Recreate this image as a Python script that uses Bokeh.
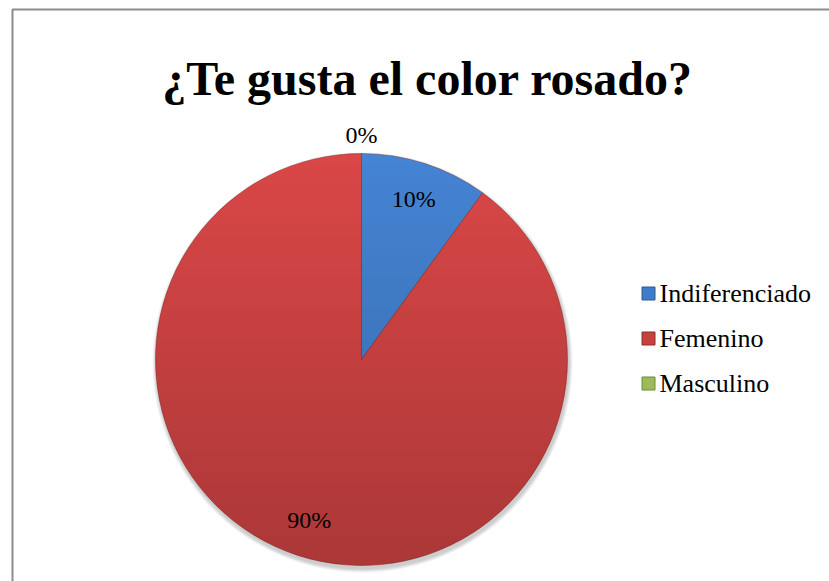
import numpy as np
from bokeh.plotting import figure
from bokeh.models import Range1d, ColumnDataSource
from bokeh.core.properties import value
from bokeh.embed import file_html
from bokeh.resources import INLINE

# ---- data ----
title_text = "¿Te gusta el color rosado?"
categories = ["Indiferenciado", "Femenino", "Masculino"]
percent = [10, 90, 0]
colors = ["#4584D4", "#DA4747", "#9BBB59"]
legend_colors = ["#3F7DC8", "#C8403D", "#9BBB59"]
edge_colors = ["#2B5A93", "#8E2F2D", "#6F8A3C"]

W, H = 829, 581
SERIF = value("Liberation Serif")

p = figure(width=W, height=H, output_backend="svg", toolbar_location=None,
           x_range=Range1d(0, W), y_range=Range1d(0, H),
           min_border=0, outline_line_color=None)
p.axis.visible = False
p.grid.visible = False
p.background_fill_color = "white"
p.border_fill_color = "white"

# chart frame (left and top edges visible, rest runs off-page)
p.line([12, 12, W + 5], [-5, H - 9, H - 9], line_color="#8C8C8C", line_width=2)

# title
p.text(x=[427], y=[H - 78], text=[title_text], text_font=SERIF,
       text_font_size="48px", text_font_style="bold", text_align="center",
       text_baseline="alphabetic", text_color="black")

# pie geometry
cx, cy, R = 361, H - 359, 206
vals = np.array(percent, dtype=float)
fr = vals / vals.sum()
ends_cum = np.cumsum(fr)
starts_cum = ends_cum - fr
start_ang = np.pi / 2 - starts_cum * 2 * np.pi
end_ang = np.pi / 2 - ends_cum * 2 * np.pi

# soft shadow
for k in range(4):
    p.circle(x=[cx + 1], y=[cy - 3], radius=R + 4 - k, fill_color="black",
             fill_alpha=0.05, line_color=None)

nz = fr > 0
src = ColumnDataSource(dict(start=start_ang[nz], end=end_ang[nz],
                            color=[c for c, m in zip(colors, nz) if m]))
p.wedge(x=cx, y=cy, radius=R, start_angle="start", end_angle="end",
        direction="clock", fill_color="color", line_color="#7a2624",
        line_alpha=0.45, line_width=1, source=src)

# vertical shading (darker toward bottom) via horizontal bands clipped to circle
nb = 40
edges = np.linspace(cy + R, cy - R, nb + 1)
for i in range(nb):
    y0, y1 = edges[i], edges[i + 1]
    ys = np.linspace(y0, y1, 6)
    half = np.sqrt(np.clip(R ** 2 - (ys - cy) ** 2, 0, None))
    xs_poly = np.concatenate([cx - half, (cx + half)[::-1]])
    ys_poly = np.concatenate([ys, ys[::-1]])
    t = i / (nb - 1)
    p.patch(xs_poly, ys_poly, fill_color="black", fill_alpha=0.21 * t,
            line_color=None)

# data labels
mid = np.pi / 2 - (starts_cum + fr / 2) * 2 * np.pi
lab_r = np.where(fr > 0, 0.82 * R, 1.09 * R)
lx = cx + lab_r * np.cos(mid)
ly = cy + lab_r * np.sin(mid)
p.text(x=lx, y=ly, text=[f"{v:.0f}%" for v in percent], text_font=SERIF,
       text_font_size="24px", text_align="center", text_baseline="middle",
       text_color="black")

# legend
n = len(categories)
lys = (H - 293) - 45 * np.arange(n)
p.scatter(x=[648] * n, y=lys, marker="square", size=13, fill_color=legend_colors,
          line_color=edge_colors, line_width=1)
p.text(x=[659] * n, y=lys, text=categories, text_font=SERIF,
       text_font_size="26px", text_align="left", text_baseline="middle",
       text_color="black")

open("out.html", "w").write(file_html(p, INLINE))
